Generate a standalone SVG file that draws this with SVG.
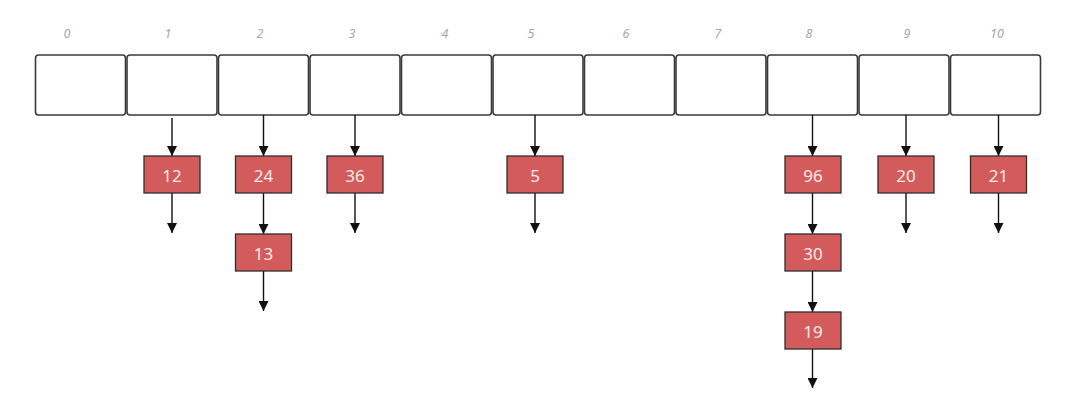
<svg xmlns="http://www.w3.org/2000/svg" width="1069" height="414" viewBox="0 0 1069 414">
<style>
.cell{fill:#fff;stroke:#3a3a3a;stroke-width:1.6}
.idx{font-family:"Noto Sans","DejaVu Sans",sans-serif;font-size:12.5px;font-style:italic;fill:#a8a8a8;text-anchor:middle}
.box{fill:#d45b5b;stroke:#2e2e2e;stroke-width:1.3}
.val{font-family:"Noto Sans","DejaVu Sans",sans-serif;font-size:17px;fill:#fbeaea;text-anchor:middle;dominant-baseline:central}
.ln{stroke:#111;stroke-width:1.4;fill:none;marker-end:url(#ah)}
</style>
<defs>
<marker id="ah" viewBox="0 0 10 10" refX="10" refY="5" markerWidth="10" markerHeight="10" markerUnits="userSpaceOnUse" orient="auto">
<path d="M0,0 L10,5 L0,10 z" fill="#111"/>
</marker>
</defs>
<g id="table">
<g id="cell0"><rect class="cell" x="35.5" y="55" width="90" height="60" rx="3"/><text class="idx" x="67" y="38">0</text></g>
<g id="cell1"><rect class="cell" x="127" y="55" width="90" height="60" rx="3"/><text class="idx" x="168" y="38">1</text></g>
<g id="cell2"><rect class="cell" x="218.5" y="55" width="90" height="60" rx="3"/><text class="idx" x="260" y="38">2</text></g>
<g id="cell3"><rect class="cell" x="310" y="55" width="90" height="60" rx="3"/><text class="idx" x="352" y="38">3</text></g>
<g id="cell4"><rect class="cell" x="401.5" y="55" width="90" height="60" rx="3"/><text class="idx" x="445" y="38">4</text></g>
<g id="cell5"><rect class="cell" x="493" y="55" width="90" height="60" rx="3"/><text class="idx" x="531" y="38">5</text></g>
<g id="cell6"><rect class="cell" x="584.5" y="55" width="90" height="60" rx="3"/><text class="idx" x="626" y="38">6</text></g>
<g id="cell7"><rect class="cell" x="676" y="55" width="90" height="60" rx="3"/><text class="idx" x="718" y="38">7</text></g>
<g id="cell8"><rect class="cell" x="767.5" y="55" width="90" height="60" rx="3"/><text class="idx" x="809" y="38">8</text></g>
<g id="cell9"><rect class="cell" x="859" y="55" width="90" height="60" rx="3"/><text class="idx" x="907" y="38">9</text></g>
<g id="cell10"><rect class="cell" x="950.5" y="55" width="90" height="60" rx="3"/><text class="idx" x="997" y="38">10</text></g>
</g>
<g id="connectors">
<line class="ln" x1="172" y1="118" x2="172" y2="156"/>
<line class="ln" x1="172" y1="193" x2="172" y2="233"/>
<line class="ln" x1="263.5" y1="115" x2="263.5" y2="156"/>
<line class="ln" x1="263.5" y1="193" x2="263.5" y2="234"/>
<line class="ln" x1="263.5" y1="271" x2="263.5" y2="311"/>
<line class="ln" x1="355" y1="115" x2="355" y2="156"/>
<line class="ln" x1="355" y1="193" x2="355" y2="233"/>
<line class="ln" x1="535" y1="115" x2="535" y2="156"/>
<line class="ln" x1="535" y1="193" x2="535" y2="233"/>
<line class="ln" x1="812.5" y1="115" x2="812.5" y2="156"/>
<line class="ln" x1="812.5" y1="193" x2="812.5" y2="234"/>
<line class="ln" x1="812.5" y1="271" x2="812.5" y2="312"/>
<line class="ln" x1="812.5" y1="349" x2="812.5" y2="388"/>
<line class="ln" x1="906" y1="115" x2="906" y2="156"/>
<line class="ln" x1="906" y1="193" x2="906" y2="233"/>
<line class="ln" x1="998.5" y1="115" x2="998.5" y2="156"/>
<line class="ln" x1="998.5" y1="193" x2="998.5" y2="233"/>
</g>
<g id="n12"><rect class="box" x="144" y="156" width="56" height="37"/><text class="val" x="172" y="175">12</text></g>
<g id="n24"><rect class="box" x="235.5" y="156" width="56" height="37"/><text class="val" x="263.5" y="175">24</text></g>
<g id="n13"><rect class="box" x="235.5" y="234" width="56" height="37"/><text class="val" x="263.5" y="253">13</text></g>
<g id="n36"><rect class="box" x="327" y="156" width="56" height="37"/><text class="val" x="355" y="175">36</text></g>
<g id="n5"><rect class="box" x="507" y="156" width="56" height="37"/><text class="val" x="535" y="175">5</text></g>
<g id="n96"><rect class="box" x="785" y="156" width="56" height="37"/><text class="val" x="813" y="175">96</text></g>
<g id="n30"><rect class="box" x="785" y="234" width="56" height="37"/><text class="val" x="813" y="253">30</text></g>
<g id="n19"><rect class="box" x="785" y="312" width="56" height="37"/><text class="val" x="813" y="331">19</text></g>
<g id="n20"><rect class="box" x="878" y="156" width="56" height="37"/><text class="val" x="906" y="175">20</text></g>
<g id="n21"><rect class="box" x="970.5" y="156" width="56" height="37"/><text class="val" x="998.5" y="175">21</text></g>
</svg>
